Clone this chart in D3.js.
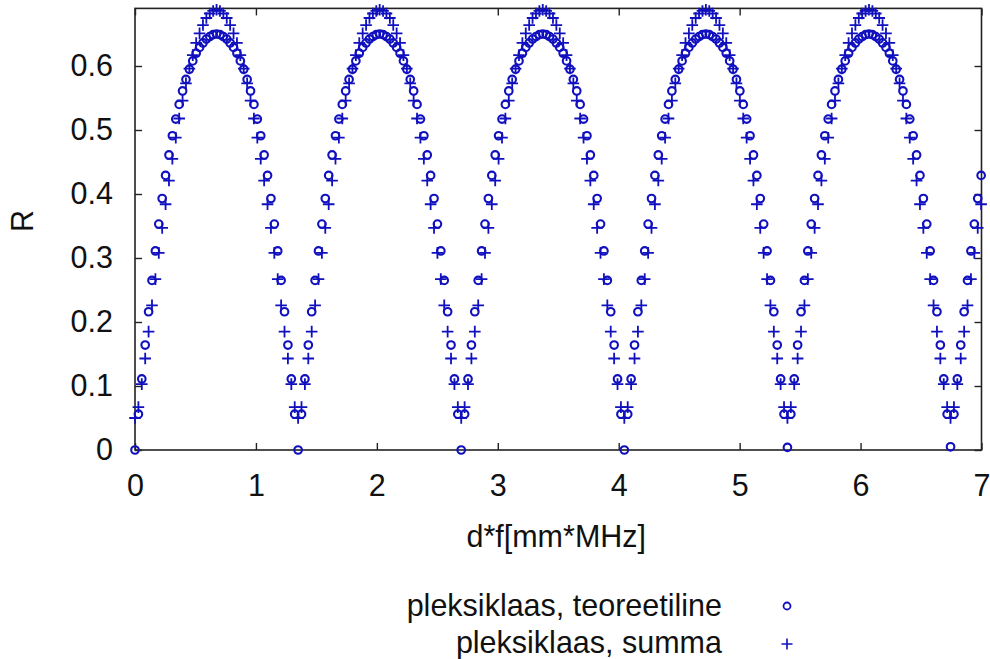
<!DOCTYPE html>
<html>
<head>
<meta charset="utf-8">
<script src="https://cdn.jsdelivr.net/npm/d3@7"></script>
<style>
  html, body { margin: 0; padding: 0; background: #fff; }
  svg { display: block; }
  text { font-family: "Liberation Sans", Arial, sans-serif; fill: #111; }
</style>
</head>
<body>
<svg id="chart" width="990" height="659"></svg>
<script>
// d*f sample grid [mm*MHz]
const xs = [
  0, 0.0281, 0.0562, 0.0843, 0.1124, 0.1405, 0.1686, 0.1967, 0.2248, 0.2529,
  0.281, 0.3091, 0.3372, 0.3653, 0.3934, 0.4215, 0.4496, 0.4777, 0.5058, 0.5339,
  0.562, 0.5901, 0.6182, 0.6463, 0.6744, 0.7025, 0.7306, 0.7587, 0.7868, 0.8149,
  0.843, 0.8711, 0.8992, 0.9273, 0.9554, 0.9835, 1.0116, 1.0397, 1.0678, 1.0959,
  1.124, 1.1521, 1.1802, 1.2083, 1.2364, 1.2645, 1.2926, 1.3207, 1.3488, 1.3769,
  1.405, 1.4331, 1.4612, 1.4893, 1.5174, 1.5455, 1.5736, 1.6017, 1.6298, 1.6579,
  1.686, 1.7141, 1.7422, 1.7703, 1.7984, 1.8265, 1.8546, 1.8827, 1.9108, 1.9389,
  1.967, 1.9951, 2.0232, 2.0513, 2.0794, 2.1075, 2.1356, 2.1637, 2.1918, 2.2199,
  2.248, 2.2761, 2.3042, 2.3323, 2.3604, 2.3885, 2.4166, 2.4447, 2.4728, 2.5009,
  2.529, 2.5571, 2.5852, 2.6133, 2.6414, 2.6695, 2.6976, 2.7257, 2.7538, 2.7819,
  2.81, 2.8381, 2.8662, 2.8943, 2.9224, 2.9505, 2.9786, 3.0067, 3.0348, 3.0629,
  3.091, 3.1191, 3.1472, 3.1753, 3.2034, 3.2315, 3.2596, 3.2877, 3.3158, 3.3439,
  3.372, 3.4001, 3.4282, 3.4563, 3.4844, 3.5125, 3.5406, 3.5687, 3.5968, 3.6249,
  3.653, 3.6811, 3.7092, 3.7373, 3.7654, 3.7935, 3.8216, 3.8497, 3.8778, 3.9059,
  3.934, 3.9621, 3.9902, 4.0183, 4.0464, 4.0745, 4.1026, 4.1307, 4.1588, 4.1869,
  4.215, 4.2431, 4.2712, 4.2993, 4.3274, 4.3555, 4.3836, 4.4117, 4.4398, 4.4679,
  4.496, 4.5241, 4.5522, 4.5803, 4.6084, 4.6365, 4.6646, 4.6927, 4.7208, 4.7489,
  4.777, 4.8051, 4.8332, 4.8613, 4.8894, 4.9175, 4.9456, 4.9737, 5.0018, 5.0299,
  5.058, 5.0861, 5.1142, 5.1423, 5.1704, 5.1985, 5.2266, 5.2547, 5.2828, 5.3109,
  5.339, 5.3671, 5.3952, 5.4233, 5.4514, 5.4795, 5.5076, 5.5357, 5.5638, 5.5919,
  5.62, 5.6481, 5.6762, 5.7043, 5.7324, 5.7605, 5.7886, 5.8167, 5.8448, 5.8729,
  5.901, 5.9291, 5.9572, 5.9853, 6.0134, 6.0415, 6.0696, 6.0977, 6.1258, 6.1539,
  6.182, 6.2101, 6.2382, 6.2663, 6.2944, 6.3225, 6.3506, 6.3787, 6.4068, 6.4349,
  6.463, 6.4911, 6.5192, 6.5473, 6.5754, 6.6035, 6.6316, 6.6597, 6.6878, 6.7159,
  6.744, 6.7721, 6.8002, 6.8283, 6.8564, 6.8845, 6.9126, 6.9407, 6.9688, 6.9969
];

// R, theoretical curve (circles)
const teoreetiline = [
  0, 0.056, 0.111, 0.164, 0.216, 0.265, 0.311, 0.353, 0.393, 0.429, 0.461, 0.491,
  0.517, 0.540, 0.561, 0.579, 0.595, 0.608, 0.620, 0.629, 0.636, 0.642, 0.646, 0.649,
  0.650, 0.649, 0.646, 0.642, 0.636, 0.629, 0.620, 0.608, 0.595, 0.579, 0.561, 0.540,
  0.517, 0.491, 0.461, 0.429, 0.393, 0.353, 0.311, 0.265, 0.216, 0.164, 0.111, 0.056,
  0, 0.056, 0.111, 0.164, 0.216, 0.265, 0.311, 0.353, 0.393, 0.429, 0.461, 0.491,
  0.517, 0.540, 0.561, 0.579, 0.595, 0.608, 0.620, 0.629, 0.636, 0.642, 0.646, 0.649,
  0.650, 0.649, 0.646, 0.642, 0.636, 0.629, 0.620, 0.608, 0.595, 0.579, 0.561, 0.540,
  0.517, 0.491, 0.461, 0.429, 0.393, 0.353, 0.311, 0.265, 0.216, 0.164, 0.111, 0.056,
  0, 0.056, 0.111, 0.164, 0.216, 0.265, 0.311, 0.353, 0.393, 0.429, 0.461, 0.491,
  0.517, 0.540, 0.561, 0.579, 0.595, 0.608, 0.620, 0.629, 0.636, 0.642, 0.646, 0.649,
  0.650, 0.649, 0.646, 0.642, 0.636, 0.629, 0.620, 0.608, 0.595, 0.579, 0.561, 0.540,
  0.517, 0.491, 0.461, 0.429, 0.393, 0.353, 0.311, 0.265, 0.216, 0.164, 0.111, 0.056,
  0, 0.056, 0.111, 0.164, 0.216, 0.265, 0.311, 0.353, 0.393, 0.429, 0.461, 0.491,
  0.517, 0.540, 0.561, 0.579, 0.595, 0.608, 0.620, 0.629, 0.636, 0.642, 0.646, 0.649,
  0.650, 0.649, 0.646, 0.642, 0.636, 0.629, 0.620, 0.608, 0.595, 0.579, 0.561, 0.540,
  0.517, 0.491, 0.461, 0.429, 0.393, 0.353, 0.311, 0.265, 0.216, 0.164, 0.111, 0.056,
  0.004, 0.056, 0.111, 0.164, 0.216, 0.265, 0.311, 0.353, 0.393, 0.429, 0.461, 0.491,
  0.517, 0.540, 0.561, 0.579, 0.595, 0.608, 0.620, 0.629, 0.636, 0.642, 0.646, 0.649,
  0.650, 0.649, 0.646, 0.642, 0.636, 0.629, 0.620, 0.608, 0.595, 0.579, 0.561, 0.540,
  0.517, 0.491, 0.461, 0.429, 0.393, 0.353, 0.311, 0.265, 0.216, 0.164, 0.111, 0.056,
  0.005, 0.056, 0.111, 0.164, 0.216, 0.265, 0.311, 0.353, 0.393, 0.429
];

// R, two-term reflection sum (plus signs)
const summa = [
  0.050, 0.067, 0.103, 0.143, 0.185, 0.226, 0.267, 0.308, 0.347, 0.384, 0.421, 0.455,
  0.488, 0.518, 0.546, 0.573, 0.596, 0.617, 0.636, 0.651, 0.664, 0.675, 0.682, 0.686,
  0.688, 0.686, 0.682, 0.675, 0.664, 0.651, 0.636, 0.617, 0.596, 0.573, 0.546, 0.518,
  0.488, 0.455, 0.421, 0.384, 0.347, 0.308, 0.267, 0.226, 0.185, 0.143, 0.103, 0.067,
  0.050, 0.067, 0.103, 0.143, 0.185, 0.226, 0.267, 0.308, 0.347, 0.384, 0.421, 0.455,
  0.488, 0.518, 0.546, 0.573, 0.596, 0.617, 0.636, 0.651, 0.664, 0.675, 0.682, 0.686,
  0.688, 0.686, 0.682, 0.675, 0.664, 0.651, 0.636, 0.617, 0.596, 0.573, 0.546, 0.518,
  0.488, 0.455, 0.421, 0.384, 0.347, 0.308, 0.267, 0.226, 0.185, 0.143, 0.103, 0.067,
  0.050, 0.067, 0.103, 0.143, 0.185, 0.226, 0.267, 0.308, 0.347, 0.384, 0.421, 0.455,
  0.488, 0.518, 0.546, 0.573, 0.596, 0.617, 0.636, 0.651, 0.664, 0.675, 0.682, 0.686,
  0.688, 0.686, 0.682, 0.675, 0.664, 0.651, 0.636, 0.617, 0.596, 0.573, 0.546, 0.518,
  0.488, 0.455, 0.421, 0.384, 0.347, 0.308, 0.267, 0.226, 0.185, 0.143, 0.103, 0.067,
  0.050, 0.067, 0.103, 0.143, 0.185, 0.226, 0.267, 0.308, 0.347, 0.384, 0.421, 0.455,
  0.488, 0.518, 0.546, 0.573, 0.596, 0.617, 0.636, 0.651, 0.664, 0.675, 0.682, 0.686,
  0.688, 0.686, 0.682, 0.675, 0.664, 0.651, 0.636, 0.617, 0.596, 0.573, 0.546, 0.518,
  0.488, 0.455, 0.421, 0.384, 0.347, 0.308, 0.267, 0.226, 0.185, 0.143, 0.103, 0.067,
  0.050, 0.067, 0.103, 0.143, 0.185, 0.226, 0.267, 0.308, 0.347, 0.384, 0.421, 0.455,
  0.488, 0.518, 0.546, 0.573, 0.596, 0.617, 0.636, 0.651, 0.664, 0.675, 0.682, 0.686,
  0.688, 0.686, 0.682, 0.675, 0.664, 0.651, 0.636, 0.617, 0.596, 0.573, 0.546, 0.518,
  0.488, 0.455, 0.421, 0.384, 0.347, 0.308, 0.267, 0.226, 0.185, 0.143, 0.103, 0.067,
  0.050, 0.067, 0.103, 0.143, 0.185, 0.226, 0.267, 0.308, 0.347, 0.384
];

const xTicks = [0, 1, 2, 3, 4, 5, 6, 7];
const yTicks = [0, 0.1, 0.2, 0.3, 0.4, 0.5, 0.6];
const xTitle = "d*f[mm*MHz]";
const yTitle = "R";
const seriesNames = ["pleksiklaas, teoreetiline", "pleksiklaas, summa"];

const W = 990, H = 659;
const plot = { left: 135, right: 981.5, top: 8.4, bottom: 450 };
const markColor = "#1010bf";
const axisColor = "#222";
const fontSize = 30.5;

const svg = d3.select("#chart");
svg.append("rect").attr("width", W).attr("height", H).attr("fill", "#fff");

const x = d3.scaleLinear().domain([0, 7]).range([plot.left, plot.right]);
const y = d3.scaleLinear().domain([0, 0.69]).range([plot.bottom, plot.top]);

// axes: ticks point inward, mirrored on the top and right edges
function styleAxis(g) {
  g.select(".domain").remove();
  g.selectAll(".tick line").attr("stroke", axisColor).attr("stroke-width", 1.4);
  g.selectAll(".tick text").attr("fill", "#111").attr("font-size", fontSize)
    .attr("font-family", "'Liberation Sans', Arial, sans-serif");
}

svg.append("g").attr("transform", `translate(0,${plot.bottom})`)
  .call(d3.axisBottom(x).tickValues(xTicks).tickFormat(d3.format("d")).tickSize(-7).tickPadding(24))
  .call(styleAxis);
svg.append("g").attr("transform", `translate(0,${plot.top})`)
  .call(d3.axisTop(x).tickValues(xTicks).tickFormat("").tickSize(-7))
  .call(styleAxis);
svg.append("g").attr("transform", `translate(${plot.left},0)`)
  .call(d3.axisLeft(y).tickValues(yTicks).tickFormat(d => d === 0 ? "0" : d3.format(".1f")(d)).tickSize(-7).tickPadding(22))
  .call(styleAxis);
svg.append("g").attr("transform", `translate(${plot.right},0)`)
  .call(d3.axisRight(y).tickValues(yTicks).tickFormat("").tickSize(-7))
  .call(styleAxis);

// frame
svg.append("rect")
  .attr("x", plot.left).attr("y", plot.top)
  .attr("width", plot.right - plot.left).attr("height", plot.bottom - plot.top)
  .attr("fill", "none").attr("stroke", axisColor).attr("stroke-width", 1.6);

// axis titles
svg.append("text")
  .attr("x", (plot.left + plot.right) / 2 - 2).attr("y", 547)
  .attr("text-anchor", "middle").attr("font-size", fontSize)
  .text(xTitle);
svg.append("text")
  .attr("transform", "translate(33,221) rotate(-90)")
  .attr("text-anchor", "middle").attr("font-size", fontSize)
  .text(yTitle);

const plusPath = s => `M${-s},0H${s}M0,${-s}V${s}`;

const pts1 = xs.map((v, i) => ({ x: v, r: teoreetiline[i] }));
const pts2 = xs.map((v, i) => ({ x: v, r: summa[i] }));

const marks = svg.append("g");
marks.selectAll("circle.t").data(pts1).join("circle")
  .attr("class", "t")
  .attr("cx", d => x(d.x)).attr("cy", d => y(d.r)).attr("r", 3.8)
  .attr("fill", "none").attr("stroke", markColor).attr("stroke-width", 2.1);
marks.selectAll("path.s").data(pts2).join("path")
  .attr("class", "s")
  .attr("transform", d => `translate(${x(d.x)},${y(d.r)})`)
  .attr("d", plusPath(5.8))
  .attr("fill", "none").attr("stroke", markColor).attr("stroke-width", 1.8);

// legend
const legend = svg.append("g");
const legendRows = [
  { name: seriesNames[0], base: 616, cy: 606, kind: "circle" },
  { name: seriesNames[1], base: 653, cy: 644, kind: "plus" }
];
legendRows.forEach(row => {
  legend.append("text").attr("x", 722).attr("y", row.base)
    .attr("text-anchor", "end").attr("font-size", fontSize).text(row.name);
  if (row.kind === "circle") {
    legend.append("circle").attr("cx", 787).attr("cy", row.cy).attr("r", 3.5)
      .attr("fill", "none").attr("stroke", markColor).attr("stroke-width", 1.8);
  } else {
    legend.append("path").attr("transform", `translate(787,${row.cy})`)
      .attr("d", plusPath(5.5)).attr("fill", "none")
      .attr("stroke", markColor).attr("stroke-width", 1.6);
  }
});
</script>
</body>
</html>
